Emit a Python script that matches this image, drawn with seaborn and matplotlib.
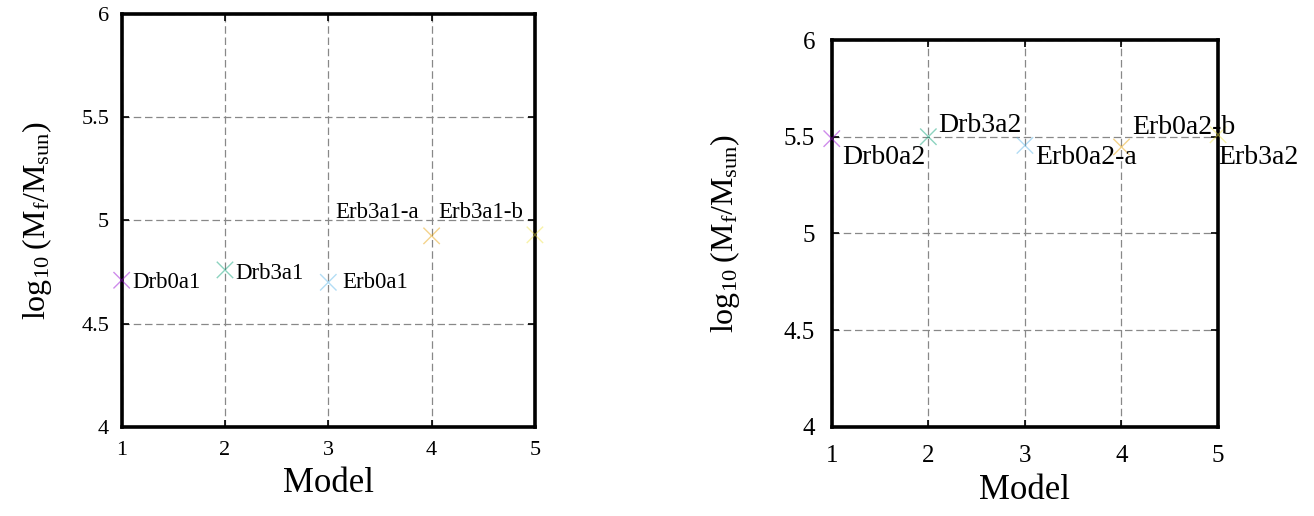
import matplotlib
matplotlib.use("Agg")
import matplotlib.pyplot as plt
import seaborn as sns
import pandas as pd

# ---- data ----
models = [1, 2, 3, 4, 5]
names_a1 = ["Drb0a1", "Drb3a1", "Erb0a1", "Erb3a1-a", "Erb3a1-b"]
mass_a1 = [4.71, 4.76, 4.70, 4.925, 4.93]
names_a2 = ["Drb0a2", "Drb3a2", "Erb0a2-a", "Erb0a2-b", "Erb3a2"]
mass_a2 = [5.49, 5.50, 5.455, 5.447, 5.51]
xticks = [1, 2, 3, 4, 5]
yticks = [4, 4.5, 5, 5.5, 6]
ytick_labels = ["4", "4.5", "5", "5.5", "6"]
colors = ["#9400D3", "#009E73", "#56B4E9", "#E69F00", "#F0E442"]

# label anchor positions (data coords)
lab_a1_x = [1.10, 2.10, 3.14, 3.065, 4.06]
lab_a1_y = [4.70, 4.745, 4.70, 5.04, 5.04]
lab_a2_x = [1.107, 2.10, 3.105, 4.11, 5.0]
lab_a2_y = [5.39, 5.56, 5.39, 5.548, 5.395]

sns.set_theme(style="white")
plt.rcParams["font.family"] = ["Liberation Serif", "DejaVu Serif"]
plt.rcParams["mathtext.fontset"] = "custom"
plt.rcParams["mathtext.rm"] = "Liberation Serif"
plt.rcParams["mathtext.it"] = "Liberation Serif:italic"
plt.rcParams["text.color"] = "black"
plt.rcParams["axes.labelcolor"] = "black"

fig = plt.figure(figsize=(13.14, 5.16), dpi=100)
ax1 = fig.add_axes([0.0926, 0.173, 0.3145, 0.7998])
ax2 = fig.add_axes([0.633, 0.173, 0.294, 0.7494])

ylab = r"$\mathrm{log_{10}\;(M_f/M_{sun})}$"

def draw(ax, names, mass, lx, ly, tick_fs, lab_fs, ax_fs, xpad, ypad, xlabpad, ylabpad):
    df = pd.DataFrame({"Model": models, "mass": mass, "name": names})
    sns.scatterplot(data=df, x="Model", y="mass", hue="name",
                    palette=colors, marker="x", s=140, linewidth=1.0,
                    alpha=0.45, legend=False, ax=ax, zorder=5, clip_on=False)
    for t, x, y in zip(names, lx, ly):
        ax.text(x, y, t, fontsize=lab_fs, ha="left", va="center",
                color="black", zorder=6, clip_on=False)
    ax.set_xlim(1, 5)
    ax.set_ylim(4, 6)
    ax.set_xticks(xticks)
    ax.set_yticks(yticks)
    ax.set_yticklabels(ytick_labels)
    ax.grid(True, color="#888888", linestyle=(0, (6, 3)), linewidth=0.9)
    ax.tick_params(direction="in", length=5, width=1.2, colors="black",
                   labelsize=tick_fs, top=True, right=True, bottom=True, left=True)
    ax.tick_params(axis="x", pad=xpad)
    ax.tick_params(axis="y", pad=ypad)
    for s in ax.spines.values():
        s.set_linewidth(2.6)
        s.set_color("black")
    ax.set_xlabel("Model", fontsize=ax_fs, labelpad=xlabpad, color="black")
    ax.set_ylabel(ylab, fontsize=23, labelpad=ylabpad, color="black")

draw(ax1, names_a1, mass_a1, lab_a1_x, lab_a1_y, 16, 16.5, 25, 10, 9, 5, 20)
draw(ax2, names_a2, mass_a2, lab_a2_x, lab_a2_y, 18, 20, 25, 13, 12, 5, 30)

fig.savefig("out.png", dpi=100)
